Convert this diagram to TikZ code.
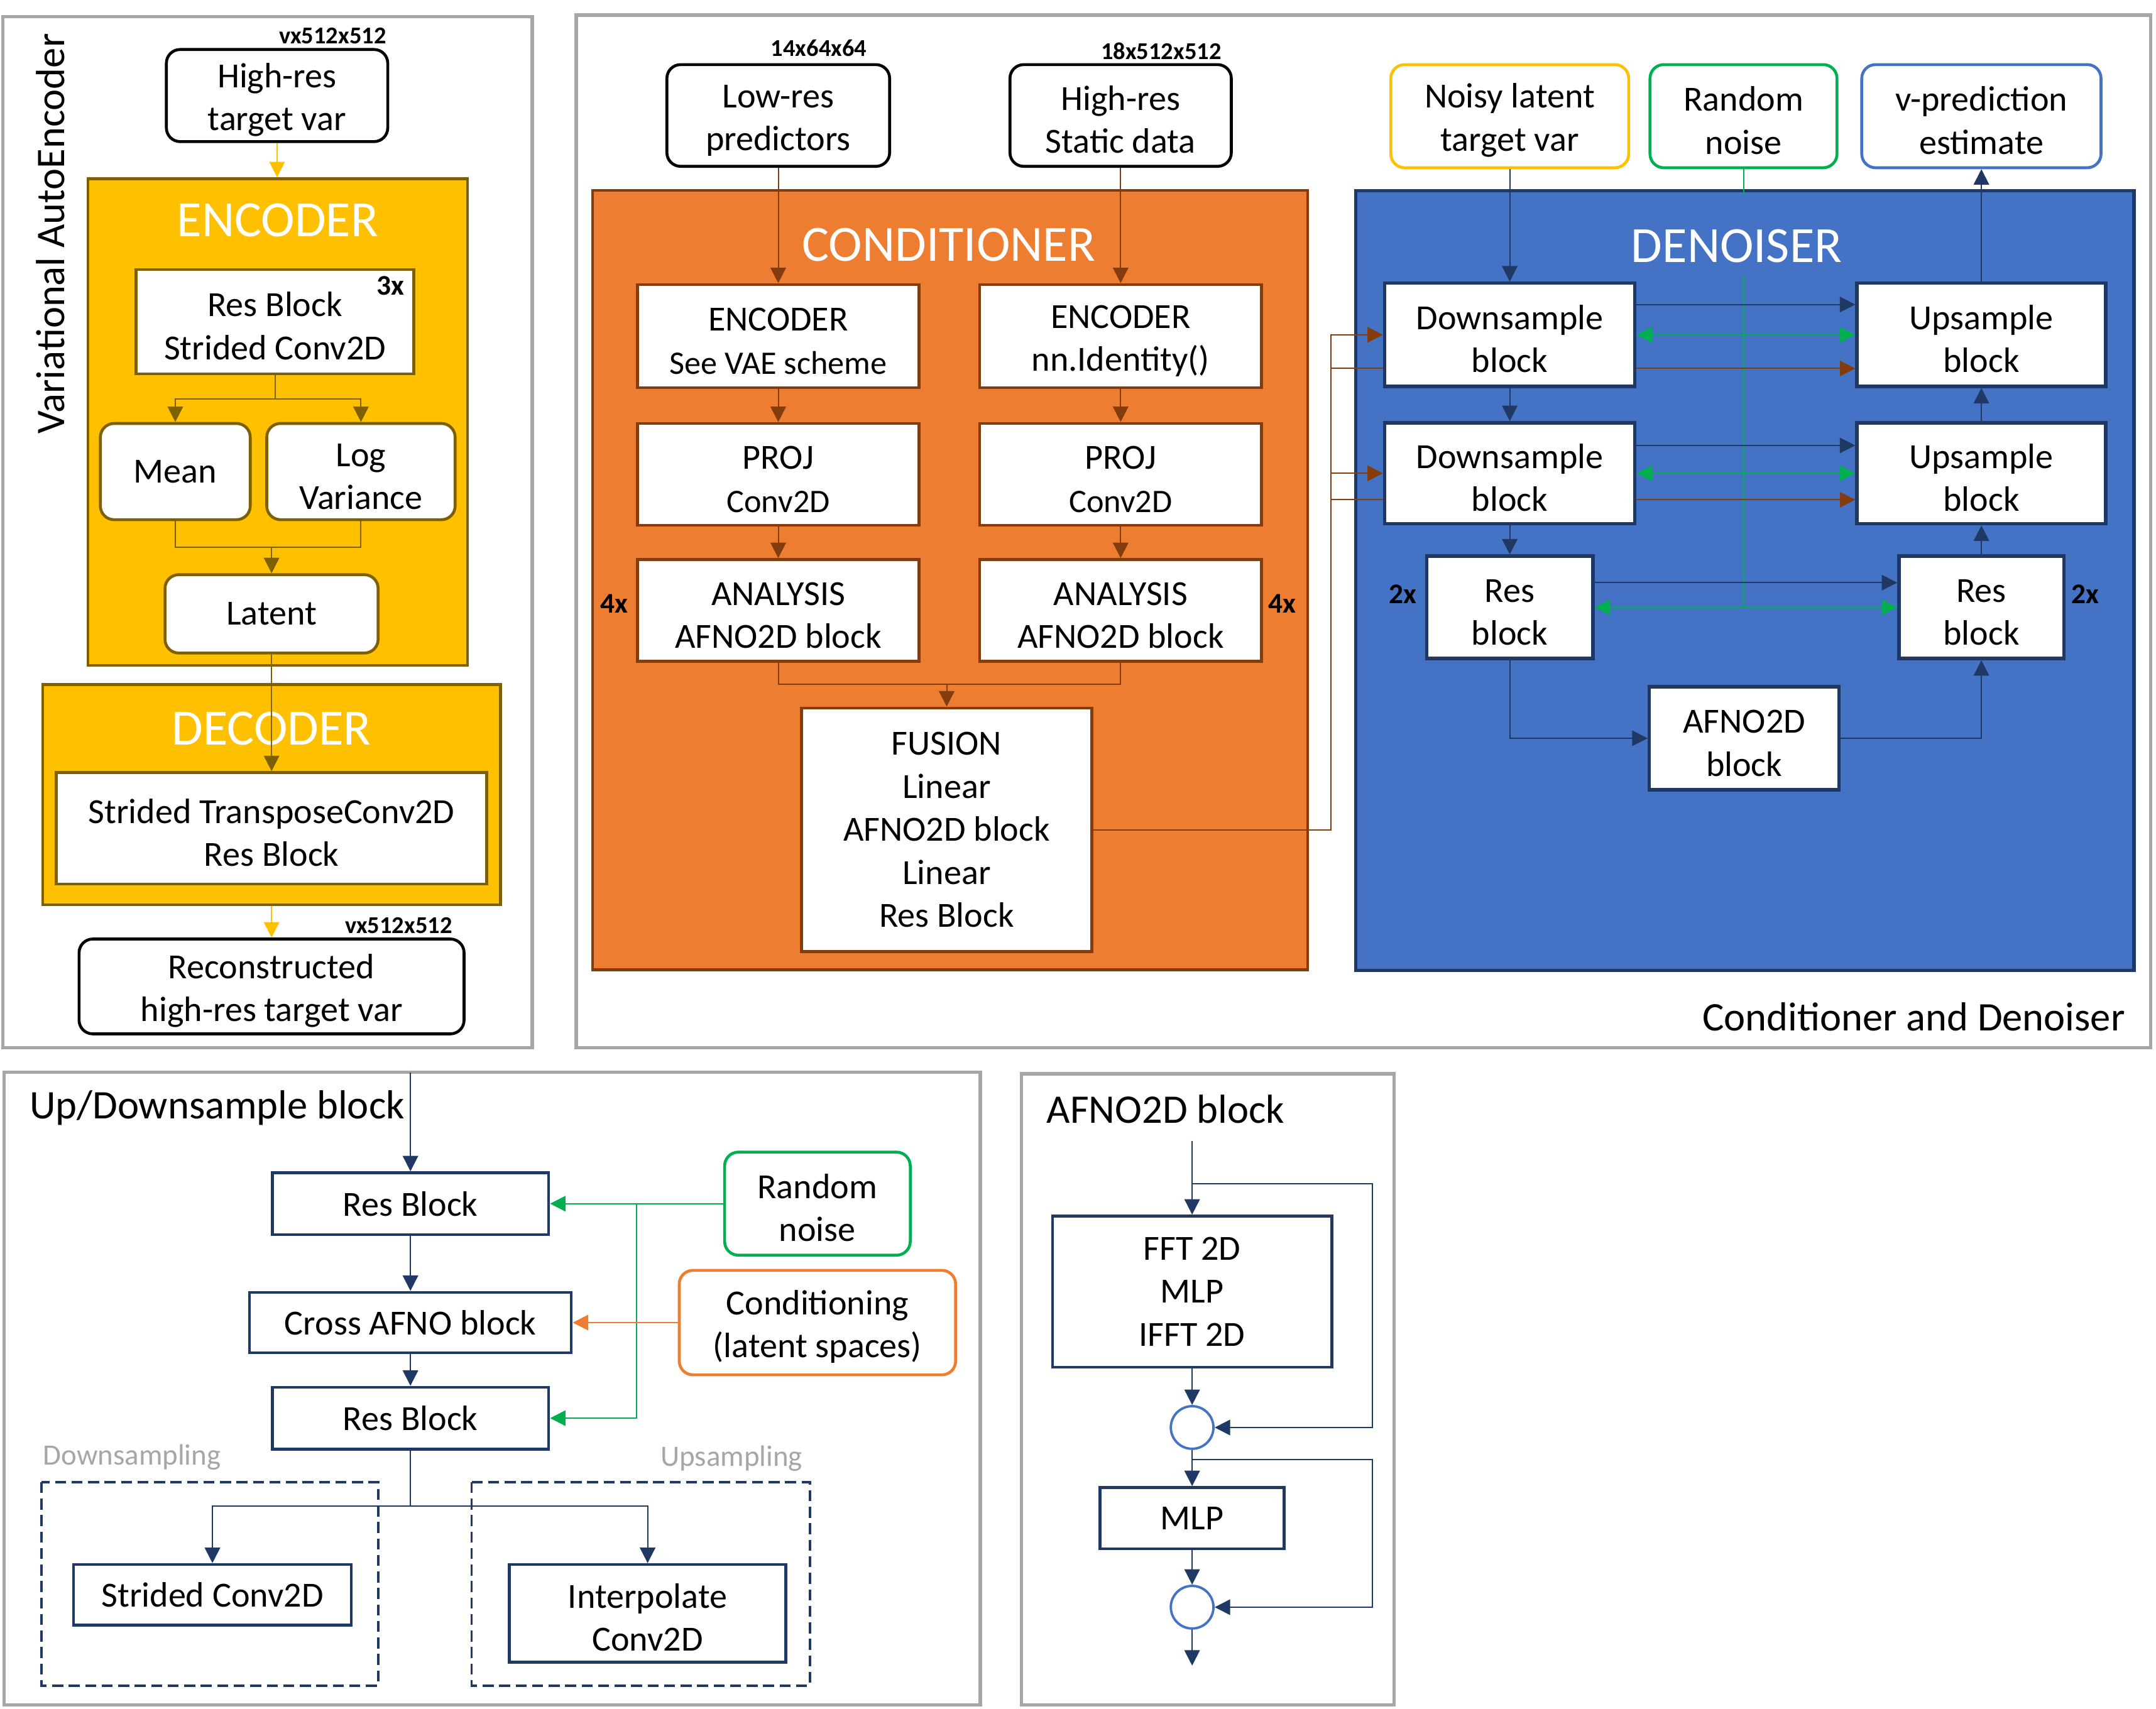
\documentclass[tikz,border=0pt]{standalone}
\usepackage{fontspec}
\setmainfont{Carlito}
\usetikzlibrary{arrows.meta}

\definecolor{panelgray}{HTML}{A6A6A6}
\definecolor{vaeyellow}{HTML}{FFC000}
\definecolor{vaebrown}{HTML}{7F6000}
\definecolor{condorange}{HTML}{ED7D31}
\definecolor{condbrown}{HTML}{843C0C}
\definecolor{denblue}{HTML}{4472C4}
\definecolor{navy}{HTML}{1F3864}
\definecolor{noisegreen}{HTML}{00B050}

\newcommand\txtbody{\fontsize{36.5}{44.5}\selectfont}
\newcommand\txtsub{\fontsize{34}{44.5}\selectfont}
\newcommand\txthead{\fontsize{52.5}{60}\selectfont}
\newcommand\txtpanel{\fontsize{42}{50}\selectfont}
\newcommand\txtsize{\fontsize{25}{30}\selectfont\bfseries}
\newcommand\txtrep{\fontsize{29.5}{35}\selectfont\bfseries}
\newcommand\txtgray{\fontsize{30.5}{36}\selectfont}
\newcommand\lft{\rule{0pt}{34pt}}

\tikzset{
  panel/.style={draw=panelgray, line width=3.5pt},
  rbox/.style={draw, rounded corners=5mm, line width=3pt, fill=white, align=center, inner sep=2pt, font=\txtbody},
  encblk/.style={draw=vaebrown, fill=vaeyellow, line width=3pt},
  encin/.style={draw=vaebrown, fill=white, line width=3pt, align=center, inner sep=2pt, font=\txtbody},
  encrin/.style={encin, rounded corners=5mm},
  condblk/.style={draw=condbrown, fill=condorange, line width=3pt},
  cin/.style={draw=condbrown, fill=white, line width=3pt, align=center, inner sep=2pt, font=\txtbody, minimum width=102.5mm, minimum height=37.5mm},
  denblk/.style={draw=navy, fill=denblue, line width=3.5pt},
  dbox/.style={draw=navy, fill=white, line width=3.5pt, align=center, inner sep=2pt, font=\txtbody},
  nbox/.style={draw=navy, fill=white, line width=3pt, align=center, inner sep=2pt, font=\txtbody},
  sumnode/.style={circle, draw=denblue, line width=2.5pt, fill=white, minimum size=15.5mm, inner sep=0pt},
  headlbl/.style={text=white, font=\txthead, inner sep=0pt},
  sizelbl/.style={font=\txtsize, inner sep=0pt},
  replbl/.style={font=\txtrep, inner sep=0pt},
  graylbl/.style={text=panelgray, font=\txtgray, inner sep=0pt},
  dashbox/.style={draw=navy, line width=2.5pt, dash pattern=on 4mm off 2mm},
  yarr/.style={draw=vaeyellow, line width=1.3pt, ->},
  barr/.style={draw=vaebrown, line width=1.3pt},
  carr/.style={draw=condbrown, line width=1.3pt},
  narr/.style={draw=navy, line width=1.3pt},
  garr/.style={draw=noisegreen, line width=1.3pt},
  oarr/.style={draw=condorange, line width=1.3pt, ->},
}

\begin{document}
\begin{tikzpicture}[x=0.5mm, y=-0.5mm, >={Triangle[length=16pt,width=16pt]}]
\useasboundingbox (0,0) rectangle (1568,1243);

% Variational AutoEncoder
\draw[panel] (2,12) rectangle (387,762);
\node[rotate=90, font=\txtpanel] (vaetitle) at (36.5,170) {Variational AutoEncoder};
\node[rbox, minimum width=80.5mm, minimum height=33.5mm] (hrtgt) at (201.5,69.5) {\lft High-res\\target var};
\node[sizelbl, anchor=east] (hrsize) at (281,26) {vx512x512};
\node[encblk, minimum width=138mm, minimum height=177mm] (encbox) at (202,307) {};
\node[headlbl] (enctitle) at (202,160) {ENCODER};
\node[encin, minimum width=101mm, minimum height=38mm] (resblk) at (200,234) {\lft Res Block\\Strided Conv2D};
\node[replbl] (rep3) at (284,208) {3x};
\node[encrin, minimum width=54.5mm, minimum height=35mm] (mean) at (127.5,343) {Mean};
\node[encrin, minimum width=68.5mm, minimum height=35mm] (logvar) at (262.5,343) {\lft Log\\Variance};
\node[encrin, minimum width=77.5mm, minimum height=28.5mm] (latent) at (197.5,446.5) {Latent};
\node[encblk, minimum width=166.5mm, minimum height=80mm] (decbox) at (197.5,578) {};
\node[headlbl] (dectitle) at (197.5,530) {DECODER};
\node[encin, minimum width=156.5mm, minimum height=40.5mm] (decin) at (197.5,602.5) {\lft Strided TransposeConv2D\\Res Block};
\node[rbox, minimum width=140mm, minimum height=34.5mm] (recon) at (197.5,717.5) {\lft Reconstructed\\high-res target var};
\node[sizelbl, anchor=east] (reconsize) at (329,673) {vx512x512};

\coordinate (vsplit) at (200,290);
\coordinate (vmerge) at (197.5,398);
\draw[yarr] (hrtgt.south) -- (hrtgt.south |- encbox.north);
\draw[barr] (resblk.south) -- (vsplit);
\draw[barr,->] (vsplit) -| (mean.north);
\draw[barr,->] (vsplit) -| (logvar.north);
\draw[barr] (mean.south) |- (vmerge) -| (logvar.south);
\draw[barr,->] (vmerge) -- (latent.north);
\draw[barr,->] (latent.south) -- (decin.north);
\draw[yarr] (decbox.south) -- (recon.north);

% Conditioner
\draw[panel] (419,11) rectangle (1564,762);
\node[rbox, minimum width=81mm, minimum height=37mm] (lowres) at (566,84) {\lft Low-res\\predictors};
\node[sizelbl] (lowsize) at (595.5,35) {14x64x64};
\node[rbox, minimum width=80.5mm, minimum height=37mm] (hrstatic) at (815,84) {\lft High-res\\Static data};
\node[sizelbl] (statsize) at (844.5,37) {18x512x512};
\node[condblk, minimum width=260mm, minimum height=283.5mm] (condbox) at (691,422) {};
\node[headlbl] (condtitle) at (690,178) {CONDITIONER};
\node[cin] (encL) at (566,244.5) {\lft ENCODER\\{\txtsub See VAE scheme}};
\node[cin] (encR) at (815,244.5) {\lft ENCODER\\nn.Identity()};
\node[cin, minimum height=37mm] (projL) at (566,345) {\lft PROJ\\{\txtsub Conv2D}};
\node[cin, minimum height=37mm] (projR) at (815,345) {\lft PROJ\\{\txtsub Conv2D}};
\node[cin, minimum height=37mm] (anaL) at (566,444) {\lft ANALYSIS\\AFNO2D block};
\node[cin, minimum height=37mm] (anaR) at (815,444) {\lft ANALYSIS\\AFNO2D block};
\node[replbl] (rep4l) at (446.5,439) {4x};
\node[replbl] (rep4r) at (932.5,439) {4x};
\node[cin, minimum width=105.5mm, minimum height=88.5mm] (fusion) at (688.5,603.5) {FUSION\\Linear\\AFNO2D block\\Linear\\Res Block};

\coordinate (cmerge) at (688.5,497.5);
\draw[carr,->] (lowres.south) -- (encL.north);
\draw[carr,->] (hrstatic.south) -- (encR.north);
\draw[carr,->] (encL) -- (projL);
\draw[carr,->] (encR) -- (projR);
\draw[carr,->] (projL) -- (anaL);
\draw[carr,->] (projR) -- (anaR);
\draw[carr] (anaL.south) |- (cmerge) -| (anaR.south);
\draw[carr,->] (cmerge) -- (fusion.north);

% Denoiser
\node[rbox, draw=vaeyellow, minimum width=86.5mm, minimum height=37.5mm] (noisy) at (1098,84.5) {\lft Noisy latent\\target var};
\node[rbox, draw=noisegreen, minimum width=68mm, minimum height=37.5mm] (rnoise) at (1268,84.5) {\lft Random\\noise};
\node[rbox, draw=denblue, minimum width=87mm, minimum height=37.5mm] (vpred) at (1441,84.5) {\lft v-prediction\\estimate};
\node[denblk, minimum width=283mm, minimum height=283.5mm] (denbox) at (1269,422.25) {};
\node[dbox, minimum width=91mm, minimum height=37.5mm] (down1) at (1098,243.5) {\lft Downsample\\block};
\node[dbox, minimum width=90.5mm, minimum height=37.5mm] (up1) at (1441,243.5) {\lft Upsample\\block};
\node[dbox, minimum width=91mm, minimum height=36.75mm] (down2) at (1098,344.25) {\lft Downsample\\block};
\node[dbox, minimum width=90.5mm, minimum height=36.75mm] (up2) at (1441,344.25) {\lft Upsample\\block};
\node[dbox, minimum width=60.5mm, minimum height=37.25mm] (resL) at (1098,441.75) {\lft Res\\block};
\node[dbox, minimum width=60mm, minimum height=37.25mm] (resR) at (1441,441.75) {\lft Res\\block};
\node[replbl] (rep2l) at (1020,432) {2x};
\node[replbl] (rep2r) at (1516.5,432) {2x};
\node[dbox, minimum width=69mm, minimum height=37.5mm] (afno) at (1268.5,537) {\lft AFNO2D\\block};
\node[anchor=east, font=\txtpanel] (cdtitle) at (1548,739.5) {Conditioner and Denoiser};

\draw[garr] (rnoise.south) -- (rnoise.south |- resL.east);
\node[headlbl, fill=denblue, anchor=base, text height=25mm, text depth=5mm] (dentitle) at (1263,191) {DENOISER};

\draw[narr,->] (noisy.south) -- (down1.north);
\draw[narr,->] (up1.north) -- (vpred.south);
\draw[narr,->] (down1) -- (down2);
\draw[narr,->] (down2) -- (resL);
\draw[narr,->] (resR) -- (up2);
\draw[narr,->] (up2) -- (up1);
\draw[narr,->] (resL.south) |- (afno.west);
\draw[narr,->] (afno.east) -| (resR.south);
\draw[narr,->] (down1.east |- 0,221.5) -- (up1.west |- 0,221.5);
\draw[narr,->] (down2.east |- 0,324) -- (up2.west |- 0,324);
\draw[narr,->] (resL.east |- 0,423.8) -- (resR.west |- 0,423.8);
\draw[garr,<->] (down1.east) -- (up1.west);
\draw[garr,<->] (down2.east) -- (up2.west);
\draw[garr,<->] (resL.east) -- (resR.west);

\coordinate (cbus) at (968,603.5);
\coordinate (cb1) at (968,268);
\coordinate (cb2) at (968,363.5);
\draw[carr,->] (fusion.east) -- (cbus) |- (down1.west);
\draw[carr,->] (cbus |- down2.west) -- (down2.west);
\draw[carr] (cb1) -- (cb1 -| down1.west);
\draw[carr] (cb2) -- (cb2 -| down2.west);
\draw[carr,->] (cb1 -| down1.east) -- (cb1 -| up1.west);
\draw[carr,->] (cb2 -| down2.east) -- (cb2 -| up2.west);

% Up/Downsample block
\draw[panel] (3,780) rectangle (713,1240);
\node[anchor=west, font=\txtpanel] (udtitle) at (19,805.7) {Up/Downsample block};
\node[nbox, minimum width=100.5mm, minimum height=22.5mm] (resb1) at (298.5,875.5) {Res Block};
\node[nbox, minimum width=117mm, minimum height=22mm] (cafno) at (298.5,962) {Cross AFNO block};
\node[nbox, minimum width=100.5mm, minimum height=22.5mm] (resb2) at (298.5,1031.5) {Res Block};
\node[rbox, draw=noisegreen, minimum width=67.5mm, minimum height=37.5mm] (rnoise2) at (594.5,875.5) {\lft Random\\noise};
\node[rbox, draw=condorange, minimum width=100.5mm, minimum height=38mm] (condlat) at (594.5,962) {\lft Conditioning\\(latent spaces)};
\node[graylbl] (dslbl) at (96,1060) {Downsampling};
\node[graylbl] (uslbl) at (532,1061) {Upsampling};
\draw[dashbox] (30,1078) rectangle (275,1226);
\draw[dashbox] (343,1078) rectangle (589,1226);
\node[nbox, minimum width=101mm, minimum height=22mm] (strided) at (154.5,1160) {Strided Conv2D};
\node[nbox, minimum width=100.5mm, minimum height=35.5mm] (interp) at (471,1173.5) {\lft Interpolate\\Conv2D};

\coordinate (udin) at (298.5,780);
\coordinate (gbr) at (463,875.5);
\coordinate (ubr) at (298.5,1095.5);
\draw[narr,->] (udin) -- (resb1.north);
\draw[narr,->] (resb1) -- (cafno);
\draw[narr,->] (cafno) -- (resb2);
\draw[garr,->] (rnoise2.west) -- (resb1.east);
\draw[garr,->] (gbr) |- (resb2.east);
\draw[oarr] (condlat.west) -- (cafno.east);
\draw[narr] (resb2.south) -- (ubr);
\draw[narr,->] (ubr) -| (strided.north);
\draw[narr,->] (ubr) -| (interp.north);

% AFNO2D block
\draw[panel] (743,781) rectangle (1014,1240);
\node[anchor=west, font=\txtpanel] (aftitle) at (758.8,806.6) {AFNO2D block};
\node[nbox, minimum width=101.5mm, minimum height=55mm] (fft) at (867,939.5) {FFT 2D\\MLP\\IFFT 2D};
\node[sumnode] (circ1) at (867,1038.3) {};
\node[nbox, minimum width=67mm, minimum height=22.3mm] (mlp) at (867,1104.3) {MLP};
\node[sumnode] (circ2) at (867,1169) {};

\coordinate (afin) at (867,830);
\coordinate (sk1) at (998,860.8);
\coordinate (sk2) at (998,1061.6);
\coordinate (afout) at (867,1211.5);
\draw[narr,->] (afin) -- (fft.north);
\draw[narr,->] (sk1 -| afin) -- (sk1) |- (circ1.east);
\draw[narr,->] (fft) -- (circ1);
\draw[narr,->] (circ1) -- (mlp);
\draw[narr,->] (sk2 -| afin) -- (sk2) |- (circ2.east);
\draw[narr,->] (mlp) -- (circ2);
\draw[narr,->] (circ2) -- (afout);
\end{tikzpicture}
\end{document}
